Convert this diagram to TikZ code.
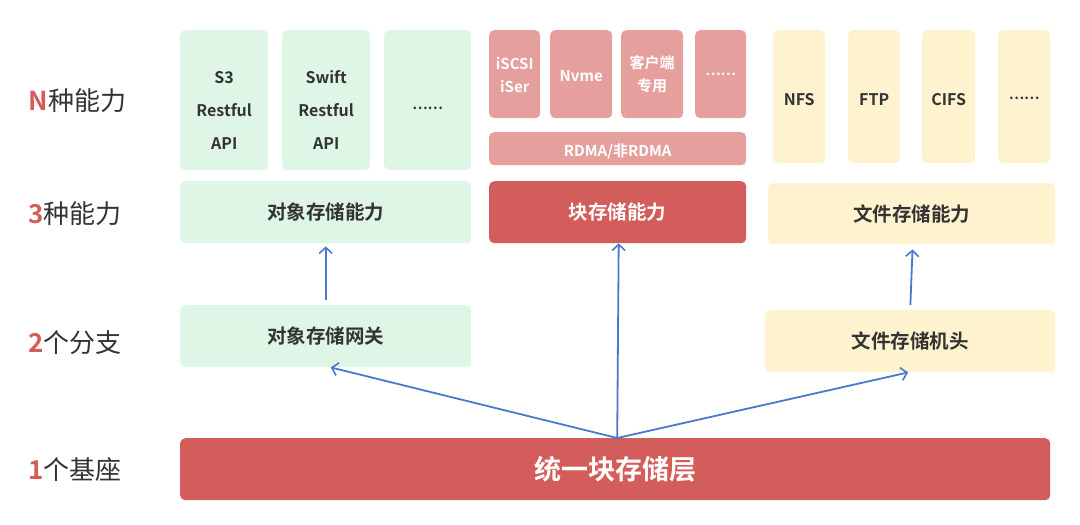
\documentclass[tikz,border=0pt]{standalone}
\usepackage{fontspec}
\setmainfont{Noto Sans CJK SC}
\newfontfamily\cjkbold{Noto Sans CJK SC Bold}
\usetikzlibrary{arrows.meta}
\definecolor{lgreen}{HTML}{DFF5E6}
\definecolor{dred}{HTML}{D35D5A}
\definecolor{lred}{HTML}{E5A09D}
\definecolor{lyellow}{HTML}{FFF2CF}
\definecolor{linkblue}{HTML}{4A78D0}
\definecolor{txt}{HTML}{333333}
\tikzset{
  box/.style={rounded corners=5pt, anchor=north west, inner sep=0pt, align=center, font=\cjkbold\fontsize{16}{33}\selectfont},
  greenbox/.style={box, fill=lgreen, text=txt},
  redbox/.style={box, fill=dred, text=white},
  pinkbox/.style={box, fill=lred, text=white, font=\cjkbold\fontsize{15}{23}\selectfont},
  yellowbox/.style={box, fill=lyellow, text=txt},
  capfont/.style={font=\cjkbold\fontsize{19.5}{22}\selectfont},
  layer/.style={anchor=west, text=txt, font=\fontsize{26}{30}\selectfont},
  conn/.style={draw=linkblue, line width=1.8pt, -{Straight Barb[length=6pt,width=13pt,line width=1.6pt]}}
}
\newcommand{\num}[1]{{\cjkbold\color{dred}#1}}
% push a line down inside its box
\newcommand{\dropby}[2]{\raisebox{0pt}[\dimexpr\height+#1*2\relax][\depth]{#2}}
\newcommand{\dotsline}[1]{\dropby{#1}{\fontsize{14}{16}\selectfont ……}}
\begin{document}
\begin{tikzpicture}[x=1pt, y=-1pt]
			%%%%% FRAME %%%%%
			\useasboundingbox (0,0) rectangle (1080,525);
			
			%%%%% LAYER LABELS %%%%%
			\node[layer] (lvn) at (25,101) {\num{N}种能力};
			\node[layer] (lv3) at (25,214) {\num{3}种能力};
			\node[layer] (lv2) at (25,343) {\num{2}个分支};
			\node[layer] (lv1) at (25,470) {\num{1}个基座};
			
			%%%%% OBJECT %%%%%
			\node[greenbox, minimum width=88, minimum height=140] (s3) at (180,30) {\rule{0pt}{32pt}S3\\Restful\\API};
			\node[greenbox, minimum width=88, minimum height=140] (swift) at (282,30) {\rule{0pt}{32pt}Swift\\Restful\\API};
			\node[greenbox, minimum width=87, minimum height=140] (objmore) at (384,30) {\dotsline{8pt}};
			\node[greenbox, capfont, minimum width=291, minimum height=62] (objcap) at (180,181) {对象存储能力};
			\node[greenbox, capfont, minimum width=291, minimum height=62] (gw) at (180,305) {对象存储网关};
			
			%%%%% BLOCK %%%%%
			\node[pinkbox, minimum width=51, minimum height=88] (iscsi) at (489,30) {\rule{0pt}{14pt}iSCSI\\iSer};
			\node[pinkbox, minimum width=62, minimum height=88] (nvme) at (550,30) {\dropby{2pt}{Nvme}};
			\node[pinkbox, minimum width=62, minimum height=88] (client) at (621,30) {\rule{0pt}{14pt}客户端\\专用};
			\node[pinkbox, minimum width=51, minimum height=88] (blkmore) at (695,30) {\dotsline{0pt}};
			\node[pinkbox, minimum width=257, minimum height=33, font=\cjkbold\fontsize{15}{18}\selectfont] (rdma) at (489,132) {\dropby{2.5pt}{RDMA/非RDMA}};
			\node[redbox, capfont, minimum width=257, minimum height=62] (blk) at (489,181) {块存储能力};
			
			%%%%% FILE %%%%%
			\node[yellowbox, minimum width=52, minimum height=133] (nfs) at (773,30) {\dropby{3pt}{NFS}};
			\node[yellowbox, minimum width=52, minimum height=133] (ftp) at (848,30) {\dropby{3pt}{FTP}};
			\node[yellowbox, minimum width=53, minimum height=133] (cifs) at (922,30) {\dropby{3pt}{CIFS}};
			\node[yellowbox, minimum width=52, minimum height=133] (filemore) at (998,30) {\dotsline{2pt}};
			\node[yellowbox, capfont, minimum width=287, minimum height=61] (filecap) at (768,183) {文件存储能力};
			\node[yellowbox, capfont, minimum width=290, minimum height=62] (head) at (765,310) {文件存储机头};
			
			%%%%% BASE %%%%%
			\node[redbox, minimum width=870, minimum height=62, font=\cjkbold\fontsize{27}{30}\selectfont] (base) at (180,438) {统一块存储层};
			
			%%%%% LINKS %%%%%
			\draw[conn] ([xshift=2pt]base.north) -- ([xshift=5pt]gw.south);
			\draw[conn] ([xshift=2pt]base.north) -- ([xshift=1pt]blk.south);
			\draw[conn] ([xshift=2pt]base.north) -- ([xshift=-2pt]head.south);
			\draw[conn, shorten <=5pt, shorten >=3pt] (gw.north) -- (objcap.south);
			\draw[conn, shorten <=5pt, shorten >=5pt] (head.north) -- ([xshift=1pt]filecap.south);
			
		\end{tikzpicture}
\end{document}
